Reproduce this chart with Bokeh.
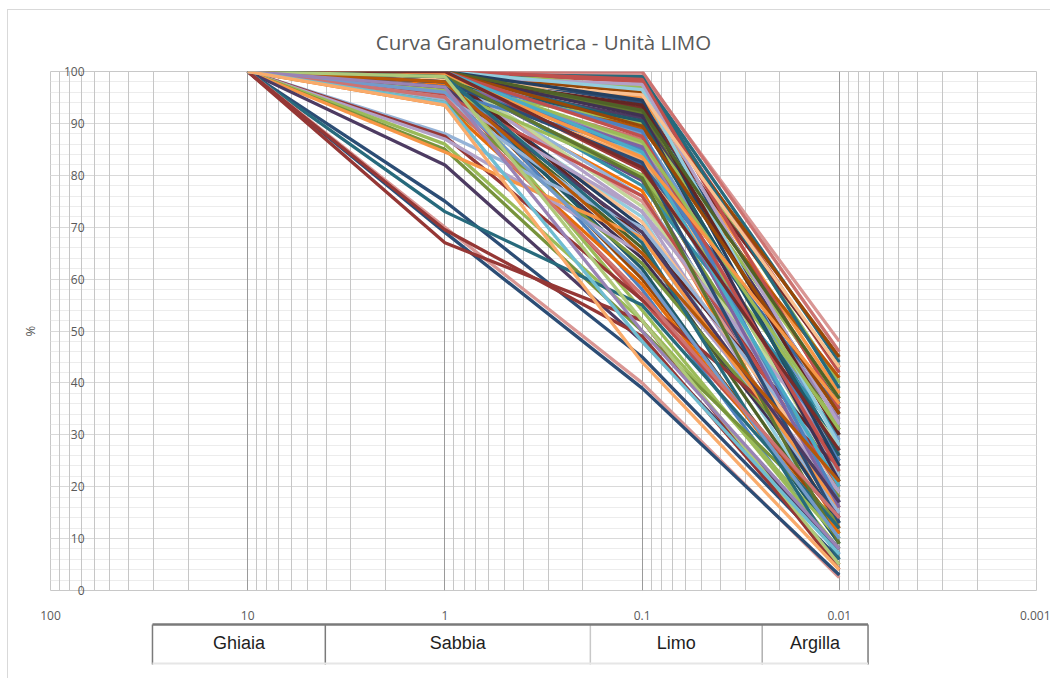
from bokeh.plotting import figure
from bokeh.models import Range1d, FixedTicker, Grid, NumeralTickFormatter
from bokeh.layouts import column
from bokeh.core.properties import value
from bokeh.embed import file_html
from bokeh.resources import INLINE

# ---------------- data ----------------
sizes = [10, 1, 0.1, 0.01]  # sieve sizes (mm)

pass_1 = [100, 100, 100, 99.5, 100, 99, 100, 99, 100, 98.5, 100, 99, 100, 98, 99, 100, 99.5, 98, 99, 100,
          98.5, 99, 100, 97.5, 99, 98, 100, 99, 97, 98, 99, 100, 98, 97, 99, 98.5, 100, 97, 99,
          97, 96, 96.5, 95.5, 95, 94.5, 94, 93.5,
          88, 87.5, 87, 86, 85, 84.5, 82, 75, 73, 70, 69, 67, 69.5,
          100, 99.5, 100, 99, 100, 98.5, 100, 99, 100, 99.5, 98, 100, 99, 100, 99, 98, 100, 99.5, 98, 100,
          99, 97, 99, 98, 96, 95, 99, 97, 94, 93.5]
pass_01 = [99, 98, 97, 96, 99.5, 95, 94, 93, 92, 91, 90, 89, 88, 87, 86, 85, 84, 83, 82, 81,
           80, 79, 78, 77, 76, 75, 74, 73, 72, 71, 70, 68, 66, 64, 62, 60, 58, 56, 54,
           90, 85, 80, 76, 73, 68, 63, 59,
           70, 56, 65, 52, 50, 68, 48, 45, 55, 40, 39, 52, 49,
           100, 99, 98.5, 97.5, 96.5, 95.5, 94.5, 93.5, 92.5, 91.5, 90.5, 89.5, 88.5, 87.5, 86.5, 85.5, 84.5, 83.5, 82.5, 81.5,
           79.5, 69, 67, 65, 61, 57, 52, 50, 48, 44]
pass_001 = [44, 42, 40, 45, 48, 38, 36, 43, 31, 34, 27, 41, 29, 24, 22, 33, 19, 26, 35, 17,
            21, 14, 30, 12, 23, 18, 28, 15, 10, 20, 13, 25, 11, 16, 9, 12, 7, 14, 8,
            37, 25, 32, 20, 27, 15, 18, 11,
            22, 24, 19, 10, 13, 16, 8, 6, 12, 2.5, 3, 4, 5,
            46, 39, 35, 32, 28, 43, 24, 30, 37, 21, 26, 34, 17, 23, 31, 16, 20, 36, 13, 27,
            9, 17, 6, 21, 10, 14, 5, 8, 7, 4]
pass_10 = [100] * len(pass_1)

title_text = "Curva Granulometrica - Unità LIMO"
y_label_text = "%"
x_tick_values = [100, 10, 1, 0.1, 0.01, 0.001]
y_tick_values = [0, 10, 20, 30, 40, 50, 60, 70, 80, 90, 100]

class_names = ["Ghiaia", "Sabbia", "Limo", "Argilla"]
class_edges = [30.4, 4.04, 0.183, 0.0246, 0.00715]

# ---------------- styles ----------------
palette = ["#4F81BD", "#C0504D", "#9BBB59", "#8064A2", "#4BACC6", "#F79646",
           "#2C4D75", "#772C2A", "#5F7530", "#4D3B62", "#276A7C", "#B65708",
           "#729ACA", "#CD7371", "#AFC97A", "#9983B5", "#6FBDD1", "#F9AB6B",
           "#3A679C", "#9F3B38", "#7E9C40", "#664F83", "#358EA6", "#F3740B",
           "#95B3D7", "#D99694", "#C3D69B", "#B2A1C7", "#93CDDD", "#FAC090",
           "#254061", "#632523", "#4F6228", "#403152", "#215968", "#984807"]
colors = [palette[i % len(palette)] for i in range(len(pass_1))]
special = {0: "#276A7C", 3: "#984807", 4: "#D99694", 60: "#CD7371",
           47: "#95B3D7", 48: "#953735", 49: "#B2A1C7", 50: "#9BBB59", 51: "#77933C", 52: "#F79646",
           53: "#4D3B62", 54: "#2C4D75", 55: "#276A7C", 56: "#D99694", 57: "#2C4D75", 58: "#953735",
           59: "#953735", 39: "#9BBB59", 40: "#4F81BD", 41: "#9BBB59", 42: "#C0504D", 43: "#B2A1C7",
           44: "#95B3D7", 45: "#77933C", 46: "#E46C0A", 61: "#276A7C", 62: "#C0504D"}
for k, c in special.items():
    colors[k] = c

FONT = "Open Sans"
GRAY = "#595959"

xs = [sizes for _ in pass_1]
ys = [[a, b, c, d] for a, b, c, d in zip(pass_10, pass_1, pass_01, pass_001)]

x_range = Range1d(100, 0.001)

p = figure(width=1042, height=612, x_axis_type="log", x_range=x_range, y_range=Range1d(0, 100),
           output_backend="svg", toolbar_location=None,
           min_border_left=42, min_border_right=14, min_border_top=61, min_border_bottom=32)
p.background_fill_color = "white"
p.border_fill_color = "white"
p.outline_line_color = "#c8c8c8"

p.title.text = title_text
p.title.align = "center"
p.title.text_font = FONT
p.title.text_font_size = "20.5px"
p.title.text_font_style = "normal"
p.title.text_color = GRAY
p.title.standoff = 31

# grids (horizontal first so vertical lines stay continuous)
p.ygrid.ticker = FixedTicker(ticks=y_tick_values, minor_ticks=list(range(0, 101, 2)))
p.ygrid.grid_line_color = "#d9d9d9"
p.ygrid.minor_grid_line_color = "#ececec"
p.xgrid.ticker = FixedTicker(ticks=x_tick_values)
p.xgrid.grid_line_color = "#9a9a9a"
minor_x = [k * 10.0 ** e for e in range(-3, 2) for k in range(2, 10)]
minor_grid = Grid(dimension=0, ticker=FixedTicker(ticks=minor_x), grid_line_color="#c6c6c6")
p.center = [p.ygrid[0], minor_grid, p.xgrid[0]]

# axes
p.xaxis.ticker = FixedTicker(ticks=x_tick_values)
p.xaxis.formatter = NumeralTickFormatter(format="0.[000]")
p.xaxis.axis_line_color = None
p.xaxis.major_tick_line_color = None
p.xaxis.minor_tick_line_color = None
p.xaxis.major_label_standoff = 14
p.xaxis.major_label_text_font = FONT
p.xaxis.major_label_text_font_size = "12px"
p.xaxis.major_label_text_color = GRAY

p.yaxis.ticker = FixedTicker(ticks=y_tick_values)
p.yaxis.axis_line_color = None
p.yaxis.major_tick_line_color = None
p.yaxis.minor_tick_line_color = None
p.yaxis.major_label_standoff = -40
p.yaxis.major_label_text_font = FONT
p.yaxis.major_label_text_font_size = "12px"
p.yaxis.major_label_text_color = GRAY
p.yaxis.axis_label = y_label_text
p.yaxis.axis_label_text_font = FONT
p.yaxis.axis_label_text_font_size = "13px"
p.yaxis.axis_label_text_font_style = "normal"
p.yaxis.axis_label_text_color = GRAY
p.yaxis.axis_label_standoff = 22

p.multi_line(xs=xs, ys=ys, line_color=colors, line_width=3.3)

# ---------------- class table ----------------
p2 = figure(width=1042, height=56, x_axis_type="log", x_range=x_range, y_range=Range1d(0, 56),
            output_backend="svg", toolbar_location=None,
            min_border_left=42, min_border_right=14, min_border_top=0, min_border_bottom=0)
p2.axis.visible = False
p2.grid.visible = False
p2.outline_line_color = None
p2.background_fill_color = "white"
p2.border_fill_color = "white"

centers = [(class_edges[i] * class_edges[i + 1]) ** 0.5 for i in range(len(class_names))]
p2.segment(x0=class_edges, y0=[54] * len(class_edges), x1=class_edges, y1=[14] * len(class_edges),
           line_color=["#7a7a7a", "#7a7a7a", "#c8c8c8", "#b0b0b0", "#7a7a7a"], line_width=1.5)
p2.segment(x0=[class_edges[0]], y0=[54], x1=[class_edges[-1]], y1=[54], line_color="#7a7a7a", line_width=2.5)
p2.segment(x0=[class_edges[0]], y0=[15], x1=[class_edges[-1]], y1=[15], line_color="#e6e6e6", line_width=2)
p2.text(x=centers, y=[36] * len(centers), text=class_names, text_align="center", text_baseline="middle",
        text_font=value("Liberation Sans Narrow, Liberation Sans"), text_font_size="18px",
        text_color="#1e1e1e")

layout = column(p, p2, margin=(9, 0, 0, 7),
                styles={"border-left": "1px solid #d9d9d9", "border-top": "1px solid #d9d9d9"})

open("out.html", "w").write(file_html(layout, INLINE))
